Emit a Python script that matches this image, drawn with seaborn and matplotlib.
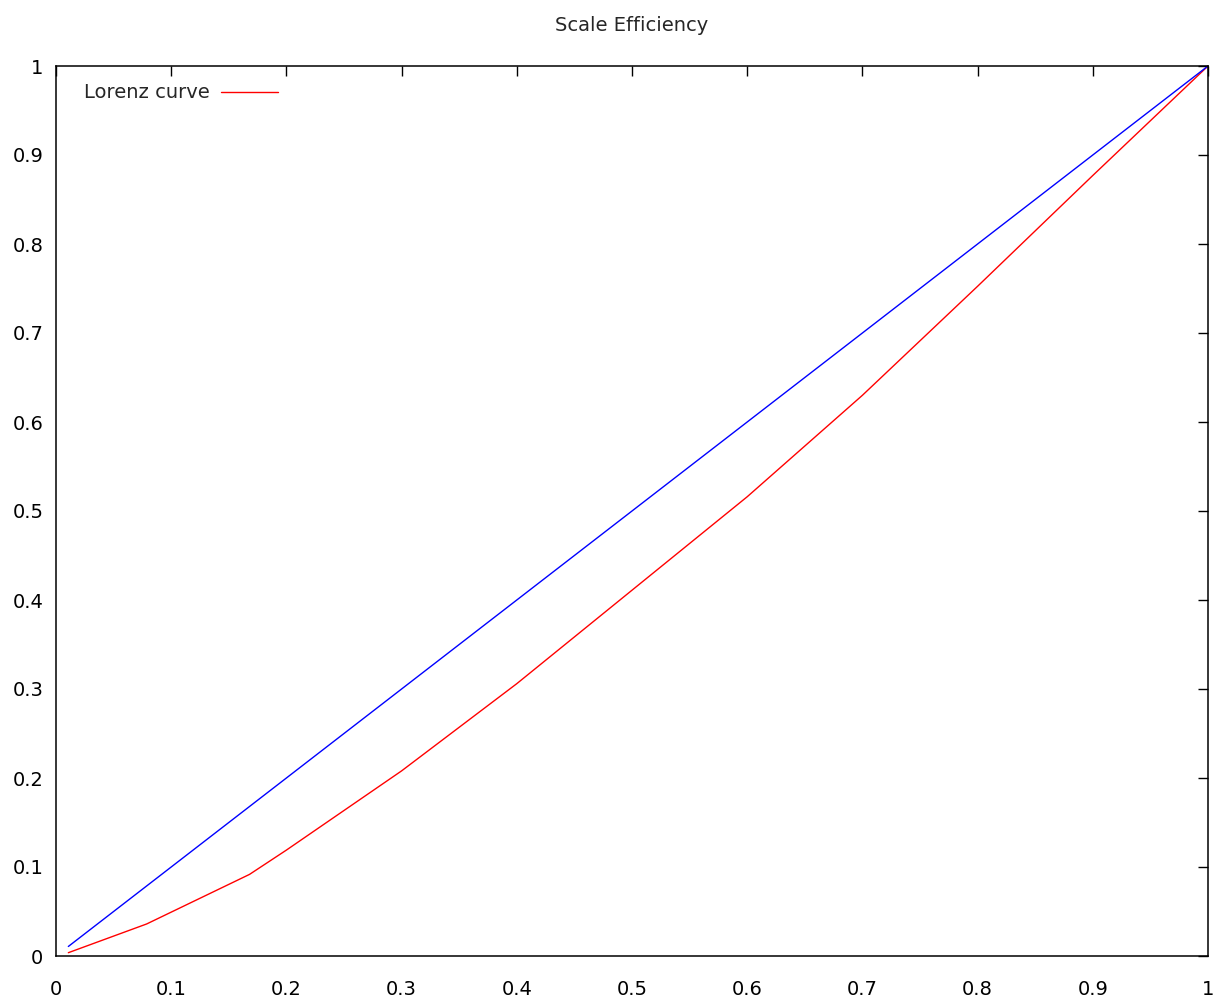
import numpy as np
import pandas as pd
import matplotlib
matplotlib.use("Agg")
import matplotlib.pyplot as plt
import seaborn as sns

# Lorenz curve
lorenz_x = [0.0107, 0.0787, 0.168, 0.2, 0.3, 0.4, 0.5, 0.6, 0.7, 0.8, 0.9, 1.0]
lorenz_y = [0.0037, 0.036, 0.0917, 0.119, 0.208, 0.306, 0.411, 0.516, 0.630, 0.7525, 0.877, 1.0]
# equality line
equal_x = [0.0107, 1.0]
equal_y = [0.0107, 1.0]

ticks = [0, 0.1, 0.2, 0.3, 0.4, 0.5, 0.6, 0.7, 0.8, 0.9, 1]
tick_labels = ["0", "0.1", "0.2", "0.3", "0.4", "0.5", "0.6", "0.7", "0.8", "0.9", "1"]

sns.set_style("white")
plt.rcParams['font.family'] = ['DejaVu Sans']

fig = plt.figure(figsize=(12.17, 10.01), dpi=100)
ax = fig.add_axes([56 / 1217, 1 - 956 / 1001, 1152 / 1217, 890 / 1001])

lorenz = pd.DataFrame({"x": lorenz_x, "y": lorenz_y})
equal = pd.DataFrame({"x": equal_x, "y": equal_y})
sns.lineplot(data=lorenz, x="x", y="y", color="red", linewidth=1.0,
             label="Lorenz curve", ax=ax, sort=False)
sns.lineplot(data=equal, x="x", y="y", color="blue", linewidth=1.0,
             legend=False, ax=ax, sort=False)

ax.set_xlim(0, 1)
ax.set_ylim(0, 1)
ax.set_xticks(ticks)
ax.set_xticklabels(tick_labels)
ax.set_yticks(ticks)
ax.set_yticklabels(tick_labels)
ax.set_xlabel("")
ax.set_ylabel("")
for s in ax.spines.values():
    s.set_visible(True)
    s.set_color("black")
    s.set_linewidth(1.1)
ax.tick_params(direction="in", length=7, width=1.0, top=True, right=True,
               labelsize=14, colors="black")
ax.tick_params(axis="x", pad=17)
ax.tick_params(axis="y", pad=9)

ax.set_title("Scale Efficiency", fontsize=14, pad=25)

leg = ax.legend(loc="upper left", markerfirst=False, frameon=False,
                fontsize=14, handlelength=2.9, handletextpad=0.6,
                borderaxespad=0.5, bbox_to_anchor=(0.009, 1.0))

plt.savefig("out.png", dpi=100)
